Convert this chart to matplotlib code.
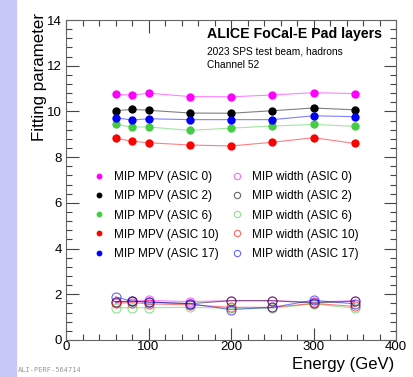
import numpy as np
import matplotlib.pyplot as plt
from matplotlib.ticker import MultipleLocator

plt.rcParams['font.family'] = ['Liberation Sans', 'DejaVu Sans']

# --- data ---
energy = [60, 80, 100, 150, 200, 250, 300, 350]
asics = ['0', '2', '6', '10', '17']
colors = ['#ff00ff', '#000000', '#44cc44', '#ff0000', '#0000ff']

mpv_0 = [10.75, 10.71, 10.80, 10.65, 10.64, 10.72, 10.82, 10.78]
mpv_2 = [10.03, 10.09, 10.05, 9.93, 9.92, 10.03, 10.15, 10.07]
mpv_6 = [9.43, 9.32, 9.32, 9.17, 9.27, 9.36, 9.43, 9.35]
mpv_10 = [8.82, 8.70, 8.63, 8.53, 8.49, 8.65, 8.85, 8.60]
mpv_17 = [9.73, 9.62, 9.68, 9.64, 9.64, 9.64, 9.81, 9.77]

width_0 = [1.66, 1.70, 1.73, 1.68, 1.72, 1.72, 1.66, 1.72]
width_2 = [1.68, 1.70, 1.66, 1.59, 1.72, 1.72, 1.62, 1.70]
width_6 = [1.41, 1.41, 1.41, 1.43, 1.39, 1.39, 1.58, 1.39]
width_10 = [1.62, 1.64, 1.58, 1.54, 1.43, 1.43, 1.60, 1.47]
width_17 = [1.89, 1.70, 1.66, 1.59, 1.33, 1.43, 1.74, 1.58]

mpvs = [mpv_0, mpv_2, mpv_6, mpv_10, mpv_17]
widths = [width_0, width_2, width_6, width_10, width_17]

fig = plt.figure(figsize=(4.13, 3.77), dpi=100)
fig.patches.append(plt.Rectangle((0, 0), 16 / 413, 1, transform=fig.transFigure,
                                 color='#c8c8f8', zorder=0))
ax = fig.add_axes([66 / 413, 37 / 377, 330 / 413, 320 / 377])

h_mpv, h_wid = [], []
for a, c, m in zip(asics, colors, mpvs):
    ax.plot(energy, m, '-', color=c, lw=0.8, alpha=0.5)
    p, = ax.plot(energy, m, 'o', color=c, ms=6, mew=0,
                 label=f'MIP MPV (ASIC {a})')
    h_mpv.append(p)
for a, c, w in zip(asics, colors, widths):
    ax.plot(energy, w, '-', color=c, lw=0.8, alpha=0.5)
    q, = ax.plot(energy, w, 'o', mfc='none', mec=c, ms=6.5, mew=0.8, alpha=0.6,
                 label=f'MIP width (ASIC {a})')
    h_wid.append(q)

ax.set_xlim(0, 400)
ax.set_ylim(0, 14)
ax.xaxis.set_major_locator(MultipleLocator(100))
ax.xaxis.set_minor_locator(MultipleLocator(20))
ax.yaxis.set_major_locator(MultipleLocator(2))
ax.yaxis.set_minor_locator(MultipleLocator(0.4))
ax.tick_params(which='both', direction='in', top=True, right=True, labelsize=9.5,
               color='#444444', width=0.8)
ax.tick_params(which='major', length=9)
ax.tick_params(which='minor', length=4.5)
ax.tick_params(axis='x', which='major', pad=1)
ax.tick_params(axis='y', which='major', pad=3)
for s in ax.spines.values():
    s.set_color('#666666')
    s.set_linewidth(0.8)

xl = ax.set_xlabel('Energy (GeV)', fontsize=12)
ax.xaxis.set_label_coords(0.994, -0.077)
xl.set_ha('right')
xl.set_va('center')
yl = ax.set_ylabel('Fitting parameter', fontsize=12.2)
yl.set_rotation_mode('anchor')
ax.yaxis.set_label_coords(-0.079, 1.022)
yl.set_ha('right')
yl.set_va('center')

ax.text(0.427, 0.956, 'ALICE FoCal-E Pad layers', transform=ax.transAxes,
        fontsize=10.2, fontweight='bold', va='center')
ax.text(0.427, 0.903, '2023 SPS test beam, hadrons', transform=ax.transAxes,
        fontsize=7.3, va='center')
ax.text(0.427, 0.859, 'Channel 52', transform=ax.transAxes,
        fontsize=7.3, va='center')

leg_kw = dict(frameon=False, fontsize=8.5, loc='upper left', borderpad=0,
              borderaxespad=0, labelspacing=0.6, handlelength=1.0,
              handletextpad=0.75, markerscale=0.7)
leg1 = ax.legend(handles=h_mpv, bbox_to_anchor=(0.083, 0.527), **leg_kw)
ax.add_artist(leg1)
ax.legend(handles=h_wid, bbox_to_anchor=(0.5, 0.527), **leg_kw)

fig.text(18 / 413, 5 / 377, 'ALI-PERF-564714', fontsize=5, color='#999999',
         family='DejaVu Sans Mono')

fig.savefig('out.png', dpi=100)
